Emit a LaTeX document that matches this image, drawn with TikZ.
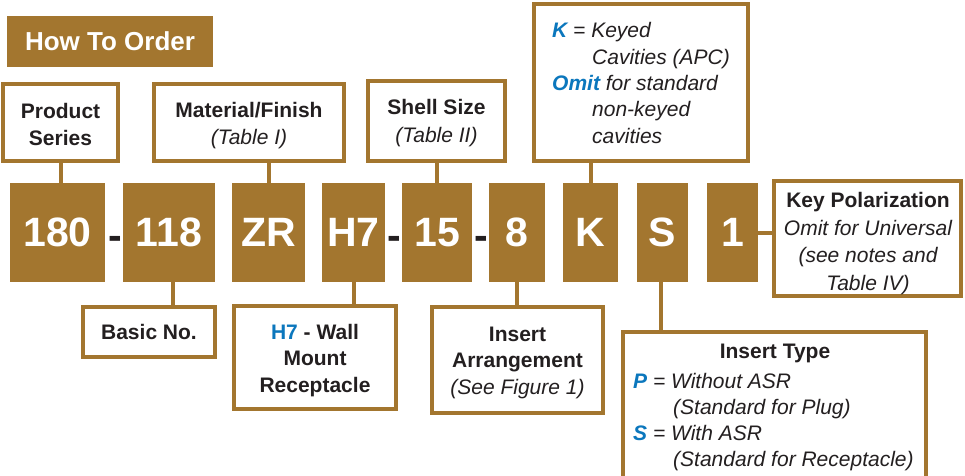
\documentclass[tikz,border=0pt]{standalone}
\usepackage{fontspec}
\setmainfont{Liberation Sans}
\definecolor{brn}{HTML}{A3762F}
\definecolor{blu}{HTML}{0B77BD}
\definecolor{ink}{HTML}{231F20}
\newcommand\lblfont{\fontsize{21}{26.5}\selectfont}
\newcommand\codefont{\fontsize{41}{48}\selectfont\bfseries}
\newcommand\bl[1]{\textcolor{blu}{\bfseries #1}}
\begin{document}
\begin{tikzpicture}[x=1pt,y=-1pt,
  frame/.style={draw=brn,line width=4pt,fill=white,inner sep=0pt,align=center,font=\lblfont,text=ink},
  code/.style={fill=brn,inner sep=0pt,minimum height=99pt,font=\codefont,text=white},
  link/.style={draw=brn,line width=4pt},
  sepdash/.style={font=\codefont,text=ink,anchor=base,inner sep=0pt},
  txt/.style={inner sep=0pt,font=\lblfont,text=ink,align=left},
  ctxt/.style={inner sep=0pt,font=\lblfont,text=ink,align=center}]
\useasboundingbox (0,0) rectangle (965,475);
\clip (0,0) rectangle (965,475);
% title
\node[fill=brn,inner sep=0pt,minimum width=206pt,minimum height=51pt,text=white,font=\fontsize{26}{30}\selectfont\bfseries] (title) at (110,41.5) {How To Order};
% code boxes
\node[code,minimum width=95pt] (c180) at (57.5,232.5) {180};
\node[code,minimum width=92pt] (c118) at (169,232.5) {118};
\node[code,minimum width=73pt] (cZR) at (268.5,232.5) {ZR};
\node[code,minimum width=63pt] (cH7) at (353.5,232.5) {H7};
\node[code,minimum width=70pt] (c15) at (437,232.5) {15};
\node[code,minimum width=56pt] (c8) at (517,232.5) {8};
\node[code,minimum width=55pt] (cK) at (590.5,232.5) {K};
\node[code,minimum width=51pt] (cS) at (662.5,232.5) {S};
\node[code,minimum width=51pt] (c1) at (732.5,232.5) {1};
\node[sepdash] (d1) at (115.5,249) {-};
\node[sepdash] (d2) at (394,249) {-};
\node[sepdash] (d3) at (481.5,249) {-};
% top boxes
\node[frame,minimum width=115pt,minimum height=77pt] (ps) at (60.5,122.5) {};
\node[ctxt] (pst) at (60.5,124.5) {\bfseries Product\\\bfseries Series};
\node[frame,minimum width=190pt,minimum height=77pt] (mf) at (249,122.5) {};
\node[ctxt] (mft) at (249,125.5) {\bfseries Material/Finish\\\itshape (Table I)};
\node[frame,minimum width=137pt,minimum height=80pt] (ss) at (436.5,121) {};
\node[ctxt,font=\fontsize{21}{28}\selectfont] (sst) at (436.5,123.5) {\bfseries Shell Size\\\itshape (Table II)};
\node[frame,minimum width=214pt,minimum height=157pt] (kb) at (641,82.5) {};
\node[txt,anchor=west,font=\fontsize{21}{26.3}\selectfont\itshape] (kbt) at (552,83) {\bl{K} = Keyed\\\hspace*{40pt}Cavities (APC)\\\bl{Omit} for standard\\\hspace*{40pt}non-keyed\\\hspace*{40pt}cavities};
% right box
\node[frame,minimum width=187pt,minimum height=115pt] (kp) at (867.5,238.5) {};
\node[ctxt,font=\fontsize{21}{27.7}\selectfont] (kpt) at (868,243.5) {\bfseries Key Polarization\\\itshape Omit for Universal\\\itshape (see notes and\\\itshape Table IV)};
% bottom boxes
\node[frame,minimum width=132pt,minimum height=50pt] (bn) at (149,332) {\bfseries Basic No.};
\node[frame,minimum width=162pt,minimum height=103pt] (h7) at (315,357.5) {};
\node[ctxt] (h7t) at (315,360.5) {\bfseries\textcolor{blu}{H7} - Wall\\\bfseries Mount\\\bfseries Receptacle};
\node[frame,minimum width=171pt,minimum height=106pt] (ia) at (517.5,360) {};
\node[ctxt] (iat) at (517.5,362.5) {\bfseries Insert\\\bfseries Arrangement\\\itshape (See Figure 1)};
\node[frame,minimum width=303pt,minimum height=170pt] (it) at (774.5,417) {};
\node[txt,font=\lblfont\bfseries] (itt) at (775,353) {Insert Type};
\node[txt,anchor=west,font=\fontsize{21}{26}\selectfont\itshape] (itb) at (633,422.5) {\bl{P} = Without ASR\\\hspace*{40pt}(Standard for Plug)\\\bl{S} = With ASR\\\hspace*{40pt}(Standard for Receptacle)};
% connectors
\draw[link] (ps.south) -- (ps.south |- c180.north);
\draw[link] (cZR.north) -- (cZR.north |- mf.south);
\draw[link] (c15.north) -- (c15.north |- ss.south);
\draw[link] (cK.north) -- (cK.north |- kb.south);
\coordinate (b118) at ([xshift=4pt]c118.south);
\draw[link] (b118) -- (b118 |- bn.north);
\draw[link] (cH7.south) -- (cH7.south |- h7.north);
\draw[link] (c8.south) -- (c8.south |- ia.north);
\coordinate (bS) at ([xshift=-1.5pt]cS.south);
\draw[link] (bS) -- (bS |- it.north);
\draw[link] (c1.east) -- (c1.east -| kp.west);
\end{tikzpicture}
\end{document}
